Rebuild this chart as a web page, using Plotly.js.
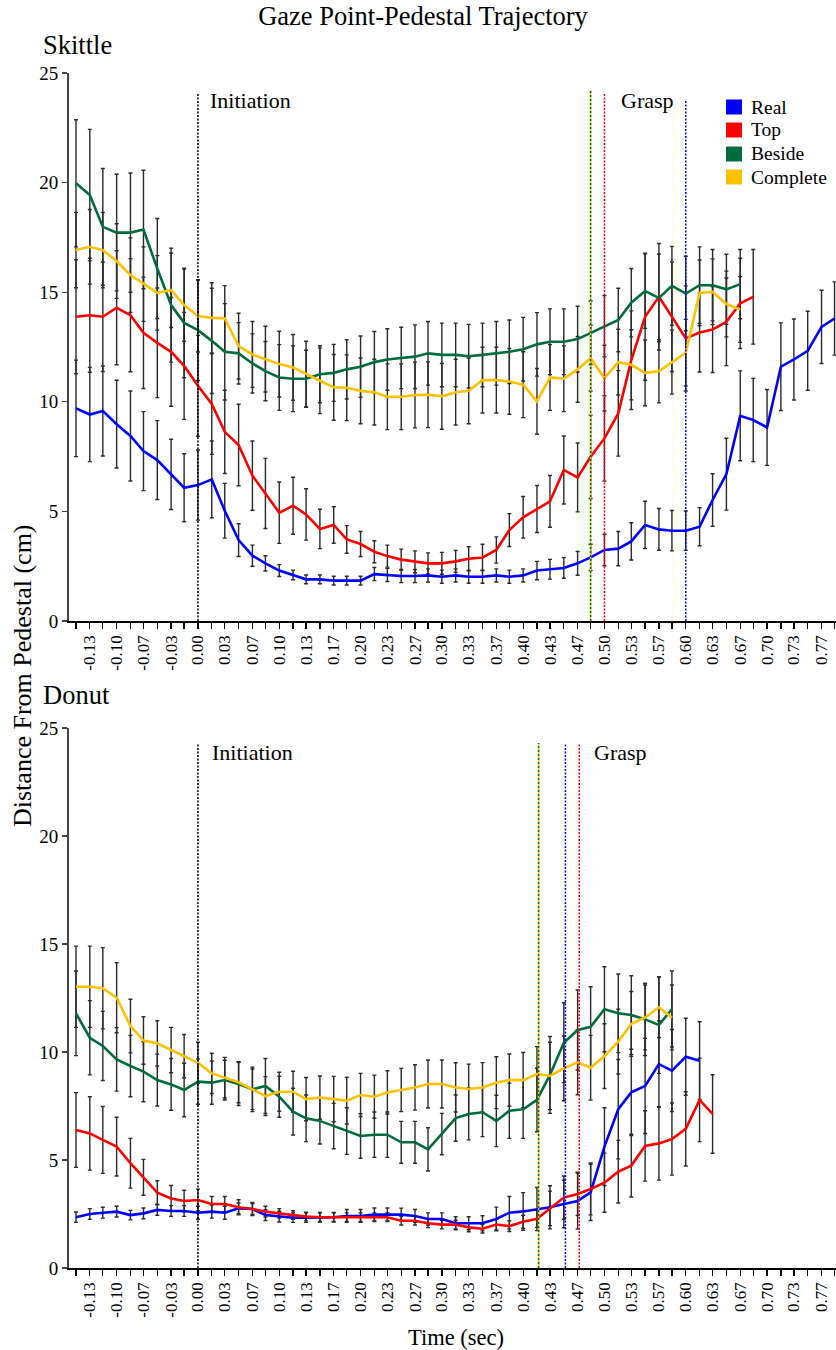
<!DOCTYPE html>
<html>
<head>
<meta charset="utf-8">
<script src="https://cdn.plot.ly/plotly-3.0.1.min.js"></script>
<style>html,body{margin:0;padding:0;background:#fff;overflow:hidden}</style>
</head>
<body>
<div id="chart" style="width:836px;height:1350px"></div>
<script>
// ---------- DATA ----------
const times = [-0.150,-0.133,-0.117,-0.100,-0.083,-0.067,-0.050,-0.033,-0.017,0.000,
  0.017,0.033,0.050,0.067,0.083,0.100,0.117,0.133,0.150,0.167,
  0.183,0.200,0.217,0.233,0.250,0.267,0.283,0.300,0.317,0.333,
  0.350,0.367,0.383,0.400,0.417,0.433,0.450,0.467,0.483,0.500,
  0.517,0.533,0.550,0.567,0.583,0.600,0.617,0.633,0.650,0.667,
  0.683,0.700,0.717,0.733,0.750,0.767,0.783];
const tickLabels = ["","-0.13","","-0.10","","-0.07","","-0.03","","0.00",
  "","0.03","","0.07","","0.10","","0.13","","0.17",
  "","0.20","","0.23","","0.27","","0.30","","0.33",
  "","0.37","","0.40","","0.43","","0.47","","0.50",
  "","0.53","","0.57","","0.60","","0.63","","0.67",
  "","0.70","","0.73","","0.77",""];
const seriesNames = ["Real","Top","Beside","Complete"];
const panelNames = ["Skittle","Donut"];

// Skittle
const skReal = [9.7,9.42,9.58,8.98,8.44,7.75,7.34,6.69,6.08,6.2,
  6.46,5.03,3.69,2.98,2.63,2.3,2.1,1.9,1.9,1.84,
  1.84,1.84,2.14,2.1,2.05,2.05,2.08,2.02,2.08,2.02,
  2.02,2.08,2.02,2.08,2.3,2.36,2.42,2.63,2.9,3.24,
  3.3,3.63,4.38,4.18,4.12,4.12,4.3,5.52,6.7,9.36,
  9.17,8.83,11.6,11.93,12.33,13.42,13.8];
const skRealErr = [2.2,2.15,2.05,2.0,2.05,1.8,1.8,1.6,1.55,1.6,
  1.75,1.25,0.75,0.48,0.35,0.27,0.22,0.2,0.2,0.2,
  0.2,0.2,0.3,0.3,0.3,0.3,0.3,0.3,0.3,0.3,
  0.3,0.3,0.3,0.3,0.42,0.45,0.47,0.54,0.6,0.72,
  0.78,0.85,1.08,0.95,0.92,0.9,0.87,1.2,1.64,2.05,
  1.9,1.73,2.0,1.85,1.8,1.67,1.67];
const skTop = [13.88,13.95,13.88,14.29,13.95,13.15,12.69,12.28,11.64,10.73,
  9.9,8.63,8.03,6.63,5.82,4.94,5.26,4.86,4.2,4.38,
  3.72,3.51,3.16,2.96,2.8,2.7,2.63,2.63,2.72,2.84,
  2.9,3.24,4.15,4.73,5.11,5.46,6.89,6.55,7.49,8.33,
  9.47,11.9,13.88,14.79,13.88,12.89,13.16,13.3,13.65,14.49,
  14.79];
const skTopErr = [2.6,2.6,2.5,2.6,2.58,2.54,2.5,2.48,2.44,2.3,
  2.3,1.9,1.86,1.58,1.6,1.4,1.3,1.17,0.9,0.83,
  0.63,0.57,0.5,0.5,0.48,0.5,0.48,0.5,0.5,0.55,
  0.6,0.6,0.75,0.95,1.07,1.18,1.55,1.57,1.9,1.95,
  1.95,2.25,2.9,2.43,2.5,2.4,1.8,1.96,2.0,2.06,
  2.16];
const skBeside = [19.97,19.43,17.98,17.72,17.72,17.86,16.08,14.41,13.6,13.27,
  12.78,12.28,12.21,11.75,11.4,11.11,11.05,11.05,11.26,11.32,
  11.48,11.6,11.81,11.93,12.0,12.06,12.21,12.14,12.14,12.08,
  12.14,12.21,12.28,12.4,12.62,12.74,12.74,12.86,13.15,13.45,
  13.73,14.52,15.05,14.74,15.29,14.94,15.32,15.32,15.13,15.37];
const skBesideErr = [2.9,3.0,2.66,2.66,2.72,2.7,2.28,2.6,2.5,2.3,
  2.4,2.2,1.4,1.35,1.35,1.5,1.5,1.3,1.3,1.3,
  1.35,1.4,1.4,1.4,1.4,1.45,1.45,1.45,1.45,1.45,
  1.45,1.45,1.45,1.45,1.45,1.5,1.5,1.5,1.45,1.4,
  1.45,1.56,1.7,2.0,1.8,1.7,1.75,1.63,1.6,1.58];
const skComplete = [16.92,17.07,16.92,16.42,15.78,15.37,14.97,15.09,14.41,13.91,
  13.83,13.8,12.54,12.16,11.95,11.72,11.57,11.26,10.96,10.66,
  10.64,10.5,10.44,10.23,10.23,10.31,10.32,10.25,10.44,10.5,
  10.99,10.99,10.93,10.78,10.02,11.11,11.05,11.48,11.99,11.08,
  11.81,11.69,11.32,11.39,11.81,12.24,14.97,15.02,14.46,14.21];
const skCompleteErr = [1.72,1.7,1.72,1.7,1.7,1.7,1.7,1.7,1.65,1.64,
  1.6,1.5,1.5,1.5,1.5,1.5,1.5,1.5,1.5,1.5,
  1.5,1.5,1.5,1.5,1.5,1.5,1.5,1.5,1.5,1.5,
  1.5,1.5,1.5,1.5,1.5,1.5,1.5,1.5,1.5,1.5,
  1.5,1.6,1.5,1.44,1.46,1.52,1.5,1.5,1.5,1.5];

// Donut
const dnReal = [2.35,2.5,2.56,2.61,2.45,2.53,2.69,2.64,2.64,2.56,
  2.61,2.56,2.76,2.73,2.45,2.38,2.33,2.33,2.35,2.35,
  2.41,2.41,2.48,2.48,2.47,2.41,2.27,2.27,2.07,2.07,
  2.07,2.27,2.56,2.62,2.73,2.81,2.96,3.1,3.5,5.62,
  7.35,8.13,8.43,9.44,9.14,9.78,9.6];
const dnRealErr = [0.24,0.25,0.25,0.25,0.22,0.25,0.25,0.25,0.25,0.3,
  0.3,0.3,0.25,0.25,0.25,0.25,0.22,0.22,0.22,0.22,
  0.3,0.3,0.3,0.3,0.3,0.3,0.28,0.28,0.3,0.3,
  0.35,0.55,0.75,0.87,1.0,1.0,1.1,1.3,1.3,1.8,
  2.3,2.0,2.2,2.0,1.9,1.78,1.8];
const dnTop = [6.39,6.23,5.93,5.62,4.85,4.2,3.49,3.22,3.1,3.15,
  2.96,2.96,2.81,2.73,2.61,2.53,2.45,2.38,2.35,2.35,
  2.35,2.35,2.35,2.35,2.19,2.19,2.07,2.01,2.01,1.88,
  1.82,2.01,1.94,2.14,2.28,2.76,3.26,3.43,3.66,3.95,
  4.46,4.74,5.65,5.77,5.97,6.44,7.78,7.13];
const dnTopErr = [1.73,1.7,1.55,1.36,1.15,0.83,0.55,0.6,0.5,0.5,
  0.35,0.35,0.35,0.3,0.25,0.22,0.2,0.2,0.2,0.2,
  0.2,0.2,0.2,0.2,0.2,0.2,0.2,0.2,0.2,0.2,
  0.2,0.25,0.25,0.3,0.4,0.8,1.0,1.0,1.2,1.37,
  1.45,1.45,1.63,1.7,1.67,1.72,1.93,1.82];
const dnBeside = [11.79,10.66,10.28,9.66,9.35,9.09,8.7,8.5,8.24,8.63,
  8.58,8.7,8.52,8.27,8.43,7.93,7.24,6.93,6.81,6.57,
  6.34,6.11,6.17,6.17,5.82,5.82,5.49,6.2,6.94,7.13,
  7.21,6.81,7.28,7.35,7.78,8.94,10.43,11.02,11.17,11.98,
  11.79,11.71,11.51,11.25,11.99];
const dnBesideErr = [1.96,1.72,1.6,1.47,1.42,1.39,1.2,1.2,1.24,1.05,
  1.0,0.92,1.0,1.03,1.27,0.95,1.08,1.08,1.07,1.05,
  1.08,1.03,1.05,1.05,0.97,0.97,1.0,0.96,1.07,1.2,
  1.13,1.19,1.28,1.35,1.47,1.78,1.85,1.85,1.85,1.97,
  1.82,1.82,1.67,2.24,1.76];
const dnComplete = [13.02,13.02,12.95,12.51,11.2,10.53,10.4,10.09,9.81,9.5,
  9.01,8.81,8.6,8.27,7.96,8.16,8.16,7.82,7.89,7.82,
  7.75,8.01,7.93,8.13,8.24,8.36,8.52,8.52,8.36,8.29,
  8.36,8.58,8.7,8.7,8.98,8.89,9.24,9.52,9.27,9.81,
  10.48,11.3,11.6,12.07,11.6];
const dnCompleteErr = [1.88,1.88,1.88,1.62,1.24,1.1,1.05,1.05,1.0,0.95,
  0.93,0.94,0.95,0.94,0.9,0.9,0.95,1.0,1.0,1.05,
  1.08,1.0,1.0,1.0,1.0,1.05,1.11,1.11,1.14,1.15,
  1.15,1.2,1.21,1.28,1.27,1.56,1.5,1.5,1.5,1.5,
  1.5,1.5,1.5,1.4,1.5];

// Event times (sec): initiation, then grasp for Real, Top, Beside, Complete
const skInit = 0.0;
const skGrasp = [0.600, 0.500, 0.483, 0.483];
const dnInit = 0.0;
const dnGrasp = [0.452, 0.469, 0.419, 0.419];

// ---------- STYLE ----------
const colors = ["#0000FF","#FF0000","#006B3C","#FFC000"];
const FONT = "Liberation Serif, Times New Roman, serif";
const L = 69, R = 836, TOP = 73, BOT = 1268, H = 1350, W = 836;
const px2x = p => (p - L) / (R - L);
const px2y = p => (BOT - p) / (BOT - TOP);

const traces = [];
function addPanel(xa, ya, vals, errs) {
  vals.forEach((v, i) => {
    traces.push({
      x: times.slice(0, v.length), y: v, xaxis: xa, yaxis: ya,
      type: 'scatter', mode: 'markers', showlegend: false, hoverinfo: 'skip',
      marker: {size: 1, color: 'rgba(0,0,0,0)'},
      error_y: {type: 'data', array: errs[i], visible: true, color: '#2a2a2a', thickness: 1.4, width: 2}
    });
  });
  vals.forEach((v, i) => {
    traces.push({
      x: times.slice(0, v.length), y: v, xaxis: xa, yaxis: ya,
      type: 'scatter', mode: 'lines', name: seriesNames[i], showlegend: false,
      line: {color: colors[i], width: 2.6}
    });
  });
}
addPanel('x', 'y', [skReal, skTop, skBeside, skComplete], [skRealErr, skTopErr, skBesideErr, skCompleteErr]);
addPanel('x2', 'y2', [dnReal, dnTop, dnBeside, dnComplete], [dnRealErr, dnTopErr, dnBesideErr, dnCompleteErr]);

const shapes = [];
function vline(xa, ya, t, top, color, dash) {
  shapes.push({type: 'line', xref: xa, yref: ya, x0: t, x1: t, y0: 0, y1: top,
    line: {color: color, width: 1.5, dash: dash}});
}
vline('x', 'y', skInit, 24.1, '#000', '2px,1.5px');
vline('x', 'y', skGrasp[3], 24.2, colors[3], 'solid');
vline('x', 'y', skGrasp[2], 24.2, colors[2], '2px,2px');
vline('x', 'y', skGrasp[1], 24.1, colors[1], '2px,1.5px');
vline('x', 'y', skGrasp[0], 23.8, colors[0], '2px,1.5px');
vline('x2', 'y2', dnInit, 24.3, '#000', '2px,1.5px');
vline('x2', 'y2', dnGrasp[3], 24.3, colors[3], 'solid');
vline('x2', 'y2', dnGrasp[2], 24.3, colors[2], '2px,2px');
vline('x2', 'y2', dnGrasp[0], 24.3, colors[0], '2px,1.5px');
vline('x2', 'y2', dnGrasp[1], 24.3, colors[1], '2px,1.5px');

const annotations = [];
function txt(text, x, y, size, xanchor, extra) {
  annotations.push(Object.assign({text: text, x: x, y: y, xref: 'paper', yref: 'paper',
    xanchor: xanchor || 'left', yanchor: 'middle', showarrow: false,
    font: {family: FONT, size: size, color: '#000'}}, extra || {}));
}
txt(panelNames[0], px2x(41), px2y(45), 26.5);
txt(panelNames[1], px2x(41), px2y(695), 26.5);
txt('Initiation', px2x(208), px2y(100), 22);
txt('Grasp', px2x(619), px2y(100), 22);
txt('Initiation', px2x(210), px2y(753), 22);
txt('Grasp', px2x(592), px2y(753), 22);
txt('Time (sec)', px2x(456), px2y(1337), 22.5, 'center');
txt('Distance From Pedestal (cm)', px2x(22), px2y(676), 26, 'center', {textangle: -90});

// manual legend
const legendRows = [107, 130, 154, 177];
seriesNames.forEach((n, i) => {
  shapes.push({type: 'rect', xref: 'paper', yref: 'paper',
    x0: px2x(726), x1: px2x(742), y0: px2y(legendRows[i] + 7.5), y1: px2y(legendRows[i] - 7.5),
    fillcolor: colors[i], line: {width: 0}});
  txt(n, px2x(749), px2y(legendRows[i]), 19.5);
});

const xr = [-0.1586, 0.7848];
const xaxisBase = {
  range: xr, showgrid: false, zeroline: false, showline: true, linecolor: '#000', linewidth: 1.5,
  ticks: 'outside', ticklen: 6, tickwidth: 1.3, tickcolor: '#000',
  tickmode: 'array', tickvals: times, ticktext: tickLabels, tickangle: -90,
  tickfont: {family: FONT, size: 17, color: '#000'}, fixedrange: true
};
const yaxisBase = {
  range: [0, 25], showgrid: false, zeroline: false, showline: true, linecolor: '#444', linewidth: 2,
  ticks: 'outside', ticklen: 5, tickwidth: 1.3, tickcolor: '#444',
  tickmode: 'array', tickvals: [0, 5, 10, 15, 20, 25],
  tickfont: {family: FONT, size: 19, color: '#000'}, fixedrange: true
};

const layout = {
  width: W, height: H,
  margin: {l: L, r: W - R, t: TOP, b: H - BOT, pad: 0},
  paper_bgcolor: '#fff', plot_bgcolor: '#fff',
  showlegend: false,
  title: {text: 'Gaze Point-Pedestal Trajectory', x: 0.506, xanchor: 'center', y: 1 - 16 / H, yanchor: 'middle',
    font: {family: FONT, size: 26.5, color: '#000'}},
  xaxis: Object.assign({}, xaxisBase, {anchor: 'y'}),
  yaxis: Object.assign({}, yaxisBase, {domain: [px2y(621), 1], anchor: 'x'}),
  xaxis2: Object.assign({}, xaxisBase, {anchor: 'y2'}),
  yaxis2: Object.assign({}, yaxisBase, {domain: [0, px2y(728)], anchor: 'x2'}),
  shapes: shapes, annotations: annotations
};

Plotly.newPlot('chart', traces, layout, {displayModeBar: false, staticPlot: true});
</script>
</body>
</html>
